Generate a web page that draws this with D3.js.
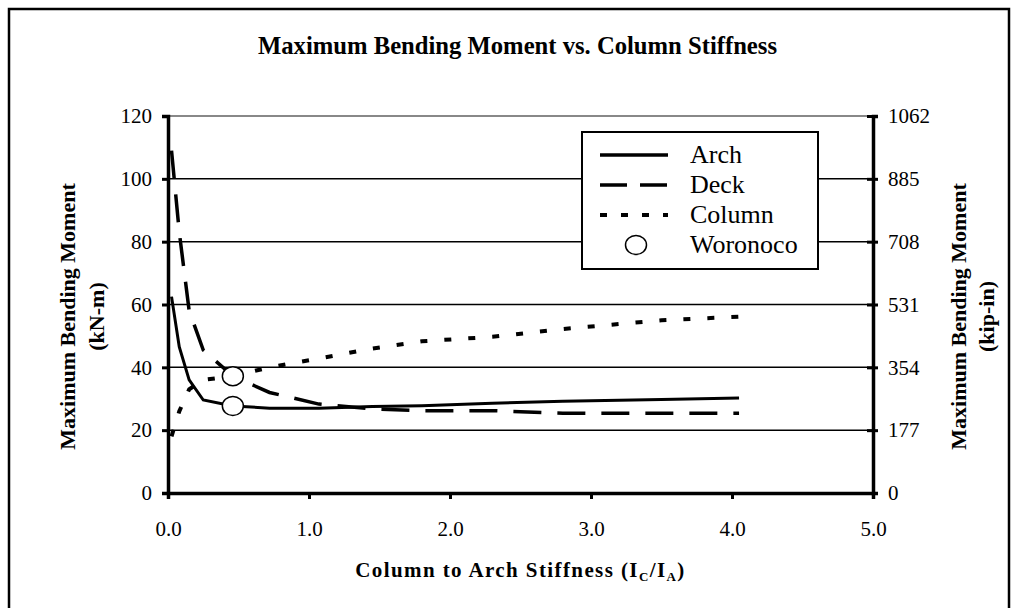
<!DOCTYPE html>
<html>
<meta charset="utf-8">
<style>
  body { margin: 0; background: #fff; }
  svg text { font-family: "Liberation Serif", "Times New Roman", serif; fill: #000; }
  .tick text { font-size: 21px; }
  .axis-title { font-size: 22px; font-weight: bold; }
  .legend text { font-size: 26px; }
</style>
<body>
<script src="https://d3js.org/d3.v7.min.js"></script>
<script>
  // data
  let stiffness = [0.025, 0.08, 0.15, 0.25, 0.46, 0.72, 1.07, 1.45, 1.8, 2.3, 2.8, 3.5, 4.05];
  let arch   = [62.5, 46.5, 36, 29.6, 27.7, 27.0, 27.0, 27.5, 27.8, 28.6, 29.2, 29.8, 30.2];
  let deck   = [109, 83, 58, 45.5, 37.2, 32, 28.3, 26.8, 26.2, 26.2, 25.4, 25.4, 25.4];
  let column = [18, 26, 33, 36, 37.2, 40, 42.8, 46, 48.3, 49.7, 52.2, 55, 56.1];
  let woronocoX = [0.46, 0.46];
  let woronocoY = [37.2, 27.7];
  let xTicks = [0, 1, 2, 3, 4, 5];
  let yTicks = [0, 20, 40, 60, 80, 100, 120];
  let yRightTicks = [0, 177, 354, 531, 708, 885, 1062];

  let width = 1017, height = 608;
  let plotLeft = 168, plotRight = 873, plotTop = 116, plotBottom = 493;

  let svg = d3.select("body").append("svg")
    .attr("width", width)
    .attr("height", height);

  // outer frame
  svg.append("rect")
    .attr("x", 9).attr("y", 9)
    .attr("width", 1000).attr("height", 640)
    .attr("fill", "none").attr("stroke", "#000").attr("stroke-width", 2.5);

  let x = d3.scaleLinear().domain([0, 5]).range([plotLeft, plotRight]);
  let y = d3.scaleLinear().domain([0, 120]).range([plotBottom, plotTop]);
  let yR = d3.scaleLinear().domain([0, 1062]).range([plotBottom, plotTop]);

  // gridlines
  svg.selectAll(".grid")
    .data(yTicks.filter(d => d > 0))
    .enter().append("line")
    .attr("x1", plotLeft).attr("x2", plotRight)
    .attr("y1", d => y(d)).attr("y2", d => y(d))
    .attr("stroke", d => d == 120 ? "#888" : "#000")
    .attr("stroke-width", d => d == 120 ? 2 : 1.5);

  // axes
  let gl = svg.append("g")
    .attr("transform", `translate(${plotLeft},0)`)
    .call(d3.axisLeft(y).tickValues(yTicks).tickFormat(d3.format("d")).tickSize(6).tickPadding(10));
  let gr = svg.append("g")
    .attr("transform", `translate(${plotRight},0)`)
    .call(d3.axisRight(yR).tickValues(yRightTicks).tickFormat(d3.format("d")).tickSize(5).tickPadding(10));
  let gb = svg.append("g")
    .attr("transform", `translate(0,${plotBottom})`)
    .call(d3.axisBottom(x).tickValues(xTicks).tickFormat(d3.format(".1f")).tickSize(6).tickPadding(22));

  [gl, gr, gb].forEach(g => {
    g.attr("font-family", null).attr("font-size", null);
    g.select(".domain").attr("stroke", "#000").attr("stroke-width", 3.5);
    g.selectAll(".tick line").attr("stroke", "#000").attr("stroke-width", 3);
    g.selectAll(".tick text").attr("fill", "#000");
  });
  gr.selectAll(".tick line").attr("x1", -6);

  // series
  let pts = vals => vals.map((v, i) => [stiffness[i], v]);
  let line = d3.line().x(d => x(d[0])).y(d => y(d[1]));

  svg.append("path").datum(pts(column))
    .attr("d", line).attr("fill", "none").attr("stroke", "#000")
    .attr("stroke-width", 4).attr("stroke-dasharray", "7,17");
  svg.append("path").datum(pts(deck))
    .attr("d", line).attr("fill", "none").attr("stroke", "#000")
    .attr("stroke-width", 3.5).attr("stroke-dasharray", "28,16");
  svg.append("path").datum(pts(arch))
    .attr("d", line).attr("fill", "none").attr("stroke", "#000")
    .attr("stroke-width", 3);

  svg.selectAll(".woronoco")
    .data(woronocoX.map((v, i) => [v, woronocoY[i]]))
    .enter().append("ellipse")
    .attr("cx", d => x(d[0])).attr("cy", d => y(d[1]))
    .attr("rx", 10.5).attr("ry", 9.5)
    .attr("fill", "#fff").attr("stroke", "#000").attr("stroke-width", 1.5);

  // titles (the original title is a bit condensed)
  svg.append("text")
    .attr("x", 258).attr("y", 54)
    .attr("font-size", "26px").attr("font-weight", "bold")
    .attr("textLength", 519).attr("lengthAdjust", "spacingAndGlyphs")
    .text("Maximum Bending Moment vs. Column Stiffness");

  let xt = svg.append("text")
    .attr("class", "axis-title")
    .attr("x", (plotLeft + plotRight) / 2).attr("y", 577)
    .attr("text-anchor", "middle")
    .style("font-size", "21px").style("letter-spacing", "1.4px");
  xt.append("tspan").text("Column to Arch Stiffness (I");
  xt.append("tspan").attr("font-size", "13px").attr("dy", 4).text("C");
  xt.append("tspan").attr("dy", -4).text("/I");
  xt.append("tspan").attr("font-size", "13px").attr("dy", 4).text("A");
  xt.append("tspan").attr("dy", -4).text(")");

  let cy = (plotTop + plotBottom) / 2 + 12;
  [[75, "Maximum Bending Moment"], [104, "(kN-m)"]].forEach(d => {
    svg.append("text").attr("class", "axis-title")
      .attr("transform", `translate(${d[0]},${cy}) rotate(-90)`)
      .attr("text-anchor", "middle").text(d[1]);
  });
  [[966, "Maximum Bending Moment"], [994, "(kip-in)"]].forEach(d => {
    svg.append("text").attr("class", "axis-title")
      .attr("transform", `translate(${d[0]},${cy}) rotate(-90)`)
      .attr("text-anchor", "middle").text(d[1]);
  });

  // legend
  let legendItems = ["Arch", "Deck", "Column", "Woronoco"];
  let dashes = [null, "27,13", "7,14", null];
  let lg = svg.append("g").attr("class", "legend");
  lg.append("rect")
    .attr("x", 582).attr("y", 132).attr("width", 236).attr("height", 137)
    .attr("fill", "#fff").attr("stroke", "#000").attr("stroke-width", 2);
  legendItems.forEach((name, i) => {
    let ly = 155 + i * 30;
    if (i < 3) {
      lg.append("line")
        .attr("x1", 600).attr("x2", 668).attr("y1", ly).attr("y2", ly)
        .attr("stroke", "#000").attr("stroke-width", i == 2 ? 4 : 3.5)
        .attr("stroke-dasharray", dashes[i]);
    } else {
      lg.append("ellipse")
        .attr("cx", 636).attr("cy", ly).attr("rx", 10.5).attr("ry", 9.5)
        .attr("fill", "#fff").attr("stroke", "#000").attr("stroke-width", 1.5);
    }
    lg.append("text").attr("x", 690).attr("y", ly + 8).text(name);
  });
</script>
</body>
</html>
